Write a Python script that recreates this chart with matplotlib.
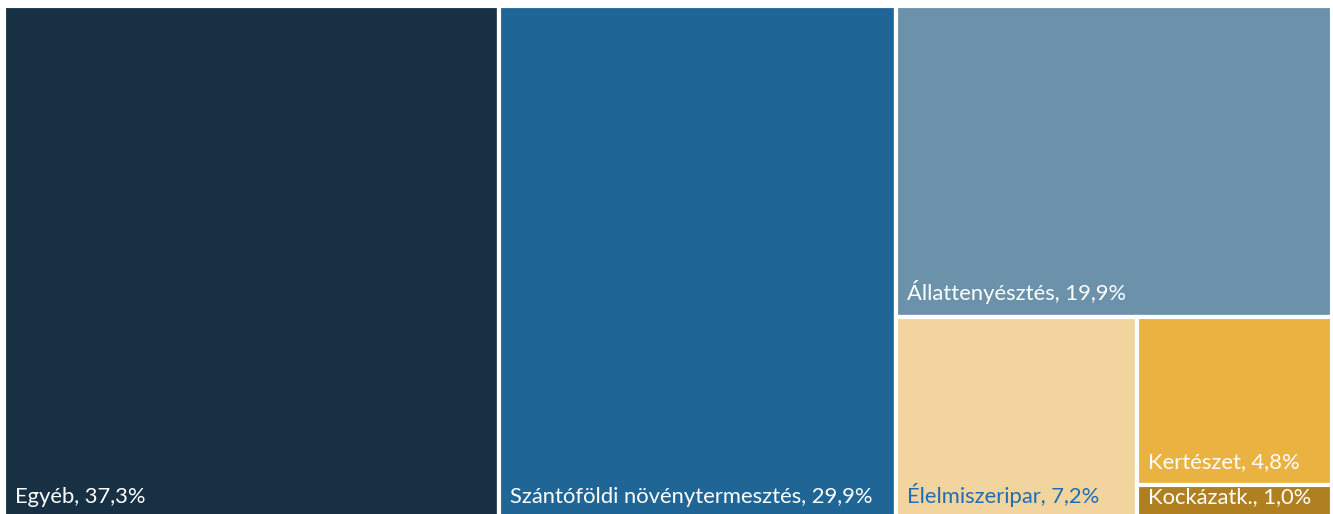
import matplotlib
matplotlib.use("Agg")
import matplotlib.pyplot as plt
from matplotlib.patches import Rectangle

# Adatok (ágazatok, százalék)
agazatok = ["Egyéb", "Szántóföldi növénytermesztés", "Állattenyésztés",
            "Élelmiszeripar", "Kertészet", "Kockázatk."]
ertekek = [37.3, 29.9, 19.9, 7.2, 4.8, 1.0]
szinek = ["#173044", "#1f6696", "#6b91ab", "#f2d49e", "#eab240", "#b07f1f"]
szoveg_szinek = ["white", "white", "white", "#1f6eb4", "white", "white"]

osszes = sum(ertekek)
H = 1.0

# treemap elrendezés: két teljes oszlop, majd a maradék oszlop felosztása
rects = []
x = 0.0
for v in ertekek[:2]:
    w = v / osszes
    rects.append((x, 0.0, w, H))
    x += w
w_jobb = 1.0 - x
maradek = sum(ertekek[2:])
# Állattenyésztés felül
h_all = ertekek[2] / maradek * H
rects.append((x, H - h_all, w_jobb, h_all))
h_also = H - h_all
# alsó sor: Élelmiszeripar balra, Kertészet + Kockázatk. jobbra egymás felett
also_ossz = sum(ertekek[3:])
w_elm = ertekek[3] / also_ossz * w_jobb
rects.append((x, 0.0, w_elm, h_also))
x2 = x + w_elm
w2 = w_jobb - w_elm
kk = ertekek[4] + ertekek[5]
h_kock = ertekek[5] / kk * h_also
rects.append((x2, h_kock, w2, h_also - h_kock))
rects.append((x2, 0.0, w2, h_kock))

fig = plt.figure(figsize=(13.33, 5.14), dpi=100)
ax = fig.add_axes([4 / 1333, -6 / 514, 1328 / 1333, 514 / 514])
ax.set_xlim(0, 1)
ax.set_ylim(0, 1)
ax.axis("off")

for (rx, ry, rw, rh), nev, v, c, tc in zip(rects, agazatok, ertekek, szinek, szoveg_szinek):
    ax.add_patch(Rectangle((rx, ry), rw, rh, facecolor=c, edgecolor="white", linewidth=3))
    szazalek = f"{v:.1f}".replace(".", ",")
    ax.annotate(f"{nev}, {szazalek}%", xy=(rx, ry), xytext=(11, 13),
                textcoords="offset pixels", ha="left", va="bottom",
                color=tc, fontsize=15.8, family="Lato")

fig.savefig("out.png", dpi=100)
